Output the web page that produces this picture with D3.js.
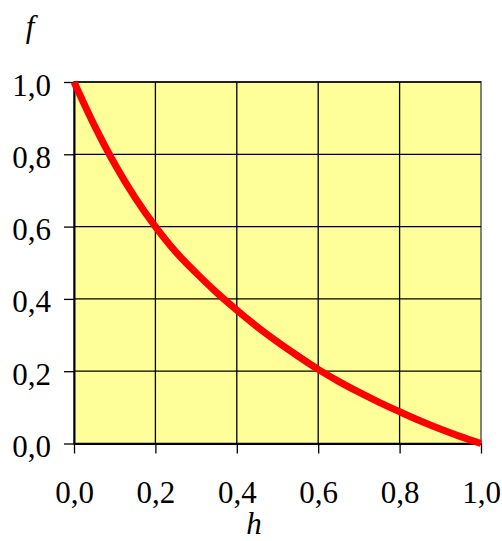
<!DOCTYPE html>
<html>
<head>
<meta charset="utf-8">
<title>f(h)</title>
<style>
body, html {
  margin: 0;
  background: #fff;
}
</style>
<script src="https://cdn.jsdelivr.net/npm/d3@7"></script>
</head>
<body>
<script>
// values
var hValues = [0, 0.05, 0.1, 0.15, 0.2, 0.25, 0.3, 0.35, 0.4, 0.45, 0.5,
               0.55, 0.6, 0.65, 0.7, 0.75, 0.8, 0.85, 0.9, 0.95, 1.0];
var fValues = [1.0, 0.88, 0.773, 0.68, 0.60, 0.53, 0.472, 0.418, 0.369, 0.323, 0.281,
               0.242, 0.205, 0.172, 0.142, 0.114, 0.088, 0.063, 0.04, 0.019, 0.0];
var tickValues = [0, 0.2, 0.4, 0.6, 0.8, 1.0];

var width = 502, height = 541;
var plotLeft = 74, plotRight = 481, plotTop = 82, plotBottom = 443.5;
var serif = "Liberation Serif";
var fontSize = "31px";

var svg = d3.select("body").append("svg")
    .attr("width", width)
    .attr("height", height);

var x = d3.scaleLinear().domain([0, 1]).range([plotLeft, plotRight]);
var y = d3.scaleLinear().domain([0, 1]).range([plotBottom, plotTop]);

var fmt = function(d) { return d3.format(".1f")(d).replace(".", ","); };

// plot area
svg.append("rect")
    .attr("x", plotLeft)
    .attr("y", plotTop)
    .attr("width", plotRight - plotLeft)
    .attr("height", plotBottom - plotTop)
    .attr("fill", "#ffff99")
    .attr("stroke", "#808080")
    .attr("stroke-width", 2);

// grid
svg.append("g").selectAll("line")
    .data(tickValues.slice(1, -1))
    .enter().append("line")
    .attr("x1", function(d) { return x(d); })
    .attr("x2", function(d) { return x(d); })
    .attr("y1", plotTop)
    .attr("y2", plotBottom)
    .attr("stroke", "#000")
    .attr("stroke-width", 1.3);

svg.append("g").selectAll("line")
    .data(tickValues.slice(1))
    .enter().append("line")
    .attr("x1", plotLeft)
    .attr("x2", plotRight)
    .attr("y1", function(d) { return y(d); })
    .attr("y2", function(d) { return y(d); })
    .attr("stroke", "#000")
    .attr("stroke-width", 1.3);

// axes
var xAxis = svg.append("g")
    .attr("transform", "translate(0," + plotBottom + ")")
    .call(d3.axisBottom(x).tickValues(tickValues).tickFormat(fmt).tickSize(10).tickSizeOuter(0));

var yAxis = svg.append("g")
    .attr("transform", "translate(" + plotLeft + ",0)")
    .call(d3.axisLeft(y).tickValues(tickValues).tickFormat(fmt).tickSize(10).tickSizeOuter(0));

[xAxis, yAxis].forEach(function(a) {
  a.attr("font-family", serif).attr("font-size", 31);
  a.select(".domain").attr("stroke", "#000").attr("stroke-width", 2);
  a.selectAll(".tick line").attr("stroke", "#000").attr("stroke-width", 1.3);
  a.selectAll("text")
    .attr("fill", "#000")
    .style("font-family", serif)
    .style("font-size", fontSize);
});

xAxis.selectAll("text").attr("dy", null).attr("y", 59.5);
yAxis.selectAll("text").attr("dy", null).attr("x", -23).attr("y", 13);

// curve
var line = d3.line()
    .x(function(d, i) { return x(hValues[i]); })
    .y(function(d) { return y(d); })
    .curve(d3.curveMonotoneX);

svg.append("path")
    .datum(fValues)
    .attr("d", line)
    .attr("fill", "none")
    .attr("stroke", "#ff0000")
    .attr("stroke-width", 7)
    .attr("stroke-linejoin", "round");

// axis titles
svg.append("text")
    .attr("x", 30)
    .attr("y", 36.5)
    .attr("text-anchor", "middle")
    .style("font-family", serif)
    .style("font-size", fontSize)
    .style("font-style", "italic")
    .text("f");

svg.append("text")
    .attr("x", 254)
    .attr("y", 534)
    .attr("text-anchor", "middle")
    .style("font-family", serif)
    .style("font-size", fontSize)
    .style("font-style", "italic")
    .text("h");
</script>
</body>
</html>
